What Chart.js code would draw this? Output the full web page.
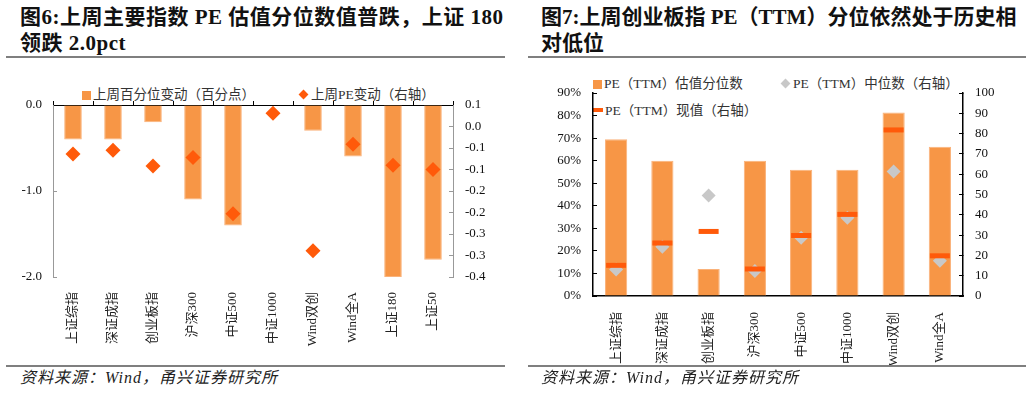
<!DOCTYPE html>
<html>
<head>
<meta charset="utf-8">
<script src="https://cdn.jsdelivr.net/npm/chart.js@4.4.1/dist/chart.umd.min.js"></script>
<style>
  body { margin: 0; background: #fff; }
  #wrap { position: relative; width: 1032px; height: 393px; background: #fff; overflow: hidden; }
  .panel { position: absolute; top: 0; width: 516px; height: 393px; }
  .title { position: absolute; top: 4px; font: bold 21px/26px "Liberation Serif", "Noto Sans CJK SC", serif; color: #111; white-space: nowrap; }
  .rule { position: absolute; height: 2px; background: #7f7f7f; }
  .src { position: absolute; top: 369px; font: italic 16px/18px "Liberation Serif", "Noto Sans CJK SC", serif; letter-spacing: 1px; color: #222; white-space: nowrap; }
  .leg { position: absolute; font: 13.5px/16px "Liberation Serif", "Noto Sans CJK SC", serif; color: #333; white-space: nowrap; }
  .sq { display: inline-block; width: 9px; height: 9px; vertical-align: -1px; margin-right: 2px; }
  .dia { display: inline-block; width: 7px; height: 7px; transform: rotate(45deg); margin: 0 4px 1px 2px; }
  .dash { display: inline-block; width: 10px; height: 4px; vertical-align: 3px; margin-right: 2px; }
  canvas { position: absolute; }
</style>
</head>
<body>
<div id="wrap">
  <div class="panel" style="left:0">
    <div class="title" style="left:20px;letter-spacing:0.5px">图6:上周主要指数 PE 估值分位数值普跌，上证 180<br>领跌 2.0pct</div>
    <div class="rule" style="left:6px;width:499px;top:56px"></div>
    <div class="leg" style="left:82px;top:87px"><span class="sq" style="background:#F79646"></span>上周百分位变动（百分点）</div>
    <div class="leg" style="left:298px;top:87px"><span class="dia" style="background:#FF5A0A"></span>上周PE变动（右轴）</div>
    <canvas id="c1" width="516" height="300" style="left:0;top:60px"></canvas>
    <div class="rule" style="left:6px;width:499px;top:365px"></div>
    <div class="src" style="left:20px">资料来源：Wind，甬兴证券研究所</div>
  </div>
  <div class="panel" style="left:516px">
    <div class="title" style="left:25px">图7:上周创业板指 PE（TTM）分位依然处于历史相<br>对低位</div>
    <div class="rule" style="left:12px;width:498px;top:56px"></div>
    <div class="leg" style="left:77px;top:76px"><span class="sq" style="background:#F79646"></span>PE（TTM）估值分位数</div>
    <div class="leg" style="left:264px;top:76px"><span class="dia" style="background:#C8C8C8"></span>PE（TTM）中位数（右轴）</div>
    <div class="leg" style="left:77px;top:103px"><span class="dash" style="background:#FF5A0A"></span>PE（TTM）现值（右轴）</div>
    <canvas id="c2" width="516" height="306" style="left:0;top:60px"></canvas>
    <div class="rule" style="left:12px;width:498px;top:365px"></div>
    <div class="src" style="left:25px">资料来源：Wind，甬兴证券研究所</div>
  </div>
</div>
<script>
// 图6 数据
const idxNames6 = ["上证综指", "深证成指", "创业板指", "沪深300", "中证500", "中证1000", "Wind双创", "Wind全A", "上证180", "上证50"];
const pctChange = [-0.4, -0.4, -0.2, -1.1, -1.4, 0, -0.3, -0.6, -2.0, -1.8];   // 百分点
const peChange = [-0.064, -0.055, -0.092, -0.072, -0.203, 0.031, -0.289, -0.041, -0.090, -0.100];

// 图7 数据
const idxNames7 = ["上证综指", "深证成指", "创业板指", "沪深300", "中证500", "中证1000", "Wind双创", "Wind全A"];
const pePct = [69.5, 60, 12, 60, 56, 56, 81.3, 66.2];        // %
const peMedian = [13.1, 24.3, 49.5, 12.3, 28.7, 38.5, 61.3, 17.4];
const peNow = [15.1, 26.1, 31.8, 13.3, 29.8, 40.2, 81.8, 19.8];

const tickFont = { family: "'Liberation Serif', 'Noto Sans CJK SC', serif", size: 13 };
const catFont = { family: "'Liberation Serif', 'Noto Sans CJK SC', serif", size: 13 };
const ORANGE = "#F79646";
const RED = "#FF5A0A";

// excel 风格的一位小数
function fmt1(v) {
  let r = Math.round(Math.abs(v) * 10 + 1e-9) / 10;
  if (r === 0) return "0.0";
  return (v < 0 ? "-" : "") + r.toFixed(1);
}
function fixW(w) { return s => { s.width = w; }; }
function fixH(h) { return s => { s.height = h; }; }

new Chart(document.getElementById("c1"), {
  data: {
    labels: idxNames6,
    datasets: [
      { type: "bar", data: pctChange, yAxisID: "y", backgroundColor: ORANGE, borderColor: "#FAB27A", borderWidth: 1,
        barPercentage: 0.44, categoryPercentage: 1, order: 2 },
      { type: "line", data: peChange, yAxisID: "y1", showLine: false, pointStyle: "rectRot",
        pointRadius: 7.5, pointHoverRadius: 7.5, pointBackgroundColor: RED, pointBorderColor: RED, pointBorderWidth: 0, order: 1 }
    ]
  },
  options: {
    responsive: false, animation: false, devicePixelRatio: 1,
    layout: { padding: 0 },
    plugins: { legend: { display: false }, tooltip: { enabled: false } },
    scales: {
      x: {
        position: "bottom", offset: true,
        grid: { display: false }, border: { display: false },
        ticks: { font: catFont, color: "#222", minRotation: 90, maxRotation: 90, padding: 7, autoSkip: false },
        afterFit: fixH(83)
      },
      x2: {
        type: "category", labels: idxNames6, position: "top", offset: true,
        grid: { offset: true, drawOnChartArea: false, tickLength: 4, color: "#000" },
        border: { color: "#000", width: 1 },
        ticks: { display: false },
        afterFit: fixH(45)
      },
      y: {
        position: "left", min: -2, max: 0,
        ticks: { stepSize: 1, font: tickFont, color: "#111", padding: 15, callback: v => fmt1(v) },
        grid: { drawOnChartArea: false, tickLength: -4, color: "#999" },
        border: { color: "#999" },
        afterFit: fixW(53)
      },
      y1: {
        position: "right", min: -0.35, max: 0.05,
        ticks: { stepSize: 0.05, font: tickFont, color: "#111", padding: 16, callback: v => fmt1(v) },
        grid: { drawOnChartArea: false, tickLength: -4, color: "#999" },
        border: { color: "#999" },
        afterFit: fixW(63)
      }
    }
  }
});

new Chart(document.getElementById("c2"), {
  data: {
    labels: idxNames7,
    datasets: [
      { type: "bar", data: pePct, yAxisID: "y", backgroundColor: ORANGE, borderColor: "#FAB27A", borderWidth: 1,
        barPercentage: 0.48, categoryPercentage: 1, order: 3 },
      { type: "line", data: peMedian, yAxisID: "y1", showLine: false, pointStyle: "rectRot",
        pointRadius: 7, pointHoverRadius: 7, pointBackgroundColor: "#C8C8C8", pointBorderColor: "#C8C8C8", pointBorderWidth: 0, order: 2 },
      { type: "line", data: peNow, yAxisID: "y1", showLine: false, pointStyle: "line",
        pointRadius: 10, pointHoverRadius: 10, pointBorderColor: RED, pointBackgroundColor: RED, pointBorderWidth: 5, order: 1 }
    ]
  },
  options: {
    responsive: false, animation: false, devicePixelRatio: 1,
    layout: { padding: { top: 33 } },
    plugins: { legend: { display: false }, tooltip: { enabled: false } },
    scales: {
      x: {
        offset: true,
        grid: { display: false },
        border: { color: "#000", width: 1.5 },
        ticks: { font: catFont, color: "#222", minRotation: 90, maxRotation: 90, padding: 8, autoSkip: false },
        afterFit: fixH(70)
      },
      y: {
        position: "left", min: 0, max: 90,
        ticks: { stepSize: 10, font: tickFont, color: "#111", padding: 16, callback: v => v + "%" },
        grid: { drawOnChartArea: false, tickLength: -4, color: "#000" },
        border: { color: "#000", width: 1.5 },
        afterFit: fixW(77)
      },
      y1: {
        position: "right", min: 0, max: 100,
        ticks: { stepSize: 10, font: tickFont, color: "#111", padding: 16 },
        grid: { drawOnChartArea: false, tickLength: -4, color: "#000" },
        border: { color: "#000", width: 1.5 },
        afterFit: fixW(69)
      }
    }
  }
});
</script>
</body>
</html>
